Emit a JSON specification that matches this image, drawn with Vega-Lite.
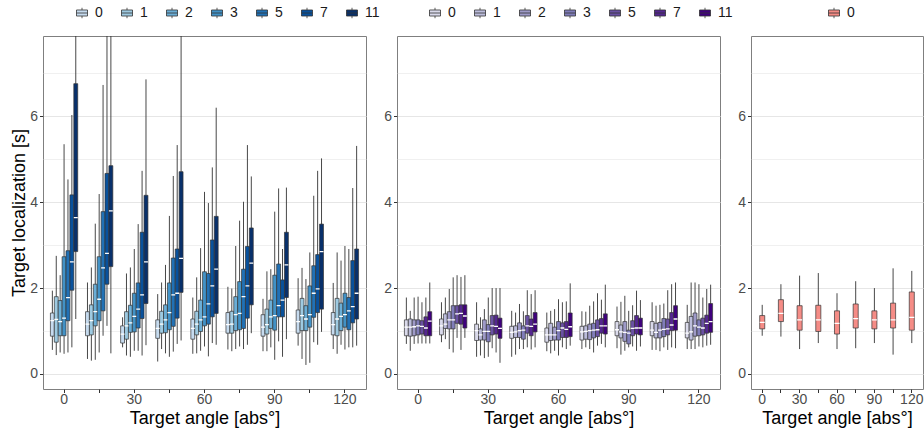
{
  "$schema": "https://vega.github.io/schema/vega-lite/v6.json",
  "padding": {"left": 10, "top": 5, "right": 0, "bottom": 5},
  "background": "white",
  "config": {
    "font": "Liberation Sans",
    "view": {"stroke": "#7f7f7f", "strokeWidth": 1},
    "axis": {"labelFontSize": 14, "labelColor": "#4d4d4d", "titleFontSize": 18, "titleFontWeight": "normal", "titleColor": "#000000", "tickColor": "#333333", "tickSize": 3.5, "domain": false, "gridColor": "#e6e6e6", "labelPadding": 2},
    "axisX": {"labelPadding": 0, "titlePadding": 3},
    "legend": {"orient": "none", "direction": "horizontal", "symbolType": "M-1,-0.55H1V0.55H-1Z M-1,0H1 M0,-0.55V-0.95 M0,0.55V0.95", "symbolSize": 121, "symbolStrokeColor": "#333333", "symbolStrokeWidth": 0.8, "symbolOpacity": 1, "labelFontSize": 14, "labelColor": "#1a1a1a", "labelOffset": 6, "columnPadding": 16}
  },
  "datasets": {
    "p1": [
      {"a":0,"g":0,"lo":0.56,"q1":0.88,"md":1.24,"q3":1.42,"hi":1.94},
      {"a":0,"g":1,"lo":0.44,"q1":0.74,"md":1.27,"q3":1.80,"hi":2.75},
      {"a":0,"g":2,"lo":0.50,"q1":0.89,"md":1.22,"q3":1.71,"hi":2.30},
      {"a":0,"g":3,"lo":0.47,"q1":0.89,"md":1.30,"q3":2.73,"hi":5.35},
      {"a":0,"g":5,"lo":0.50,"q1":1.24,"md":1.78,"q3":2.87,"hi":4.53},
      {"a":0,"g":7,"lo":0.62,"q1":1.95,"md":2.61,"q3":4.17,"hi":6.03},
      {"a":0,"g":11,"lo":1.28,"q1":2.85,"md":3.64,"q3":6.76,"hi":9.0},
      {"a":15,"g":0,"lo":0.35,"q1":0.89,"md":1.16,"q3":1.45,"hi":2.13},
      {"a":15,"g":1,"lo":0.31,"q1":0.91,"md":1.24,"q3":1.61,"hi":2.48},
      {"a":15,"g":2,"lo":0.33,"q1":1.12,"md":1.45,"q3":2.09,"hi":3.50},
      {"a":15,"g":3,"lo":0.50,"q1":1.24,"md":1.74,"q3":2.73,"hi":4.19},
      {"a":15,"g":5,"lo":0.89,"q1":1.47,"md":2.47,"q3":3.78,"hi":6.73},
      {"a":15,"g":7,"lo":1.12,"q1":2.09,"md":2.81,"q3":4.67,"hi":9.0},
      {"a":15,"g":11,"lo":0.48,"q1":2.50,"md":3.80,"q3":4.85,"hi":9.0},
      {"a":30,"g":0,"lo":0.62,"q1":0.72,"md":0.93,"q3":1.12,"hi":1.32},
      {"a":30,"g":1,"lo":0.43,"q1":0.81,"md":1.12,"q3":1.45,"hi":2.34},
      {"a":30,"g":2,"lo":0.40,"q1":0.97,"md":1.19,"q3":1.60,"hi":2.48},
      {"a":30,"g":3,"lo":0.54,"q1":0.98,"md":1.34,"q3":1.88,"hi":2.91},
      {"a":30,"g":5,"lo":0.54,"q1":1.07,"md":1.51,"q3":2.12,"hi":3.49},
      {"a":30,"g":7,"lo":0.43,"q1":1.29,"md":1.84,"q3":3.30,"hi":4.73},
      {"a":30,"g":11,"lo":0.67,"q1":1.64,"md":2.61,"q3":4.16,"hi":6.86},
      {"a":45,"g":0,"lo":0.29,"q1":0.83,"md":1.06,"q3":1.26,"hi":1.86},
      {"a":45,"g":1,"lo":0.58,"q1":0.95,"md":1.16,"q3":1.46,"hi":2.13},
      {"a":45,"g":2,"lo":0.48,"q1":0.96,"md":1.26,"q3":1.61,"hi":2.54},
      {"a":45,"g":3,"lo":0.40,"q1":1.03,"md":1.43,"q3":2.12,"hi":3.68},
      {"a":45,"g":5,"lo":0.52,"q1":1.11,"md":1.84,"q3":2.70,"hi":4.61},
      {"a":45,"g":7,"lo":0.70,"q1":1.30,"md":1.88,"q3":2.91,"hi":5.33},
      {"a":45,"g":11,"lo":0.78,"q1":1.90,"md":2.69,"q3":4.71,"hi":9.0},
      {"a":60,"g":0,"lo":0.47,"q1":0.81,"md":1.06,"q3":1.28,"hi":1.78},
      {"a":60,"g":1,"lo":0.48,"q1":0.91,"md":1.16,"q3":1.46,"hi":2.25},
      {"a":60,"g":2,"lo":0.54,"q1":0.99,"md":1.26,"q3":1.72,"hi":2.93},
      {"a":60,"g":3,"lo":0.64,"q1":1.12,"md":1.33,"q3":2.38,"hi":4.24},
      {"a":60,"g":5,"lo":0.41,"q1":1.16,"md":1.63,"q3":2.34,"hi":3.98},
      {"a":60,"g":7,"lo":0.72,"q1":1.33,"md":2.05,"q3":3.12,"hi":4.81},
      {"a":60,"g":11,"lo":0.68,"q1":1.41,"md":2.44,"q3":3.67,"hi":6.20},
      {"a":75,"g":0,"lo":0.57,"q1":0.95,"md":1.15,"q3":1.43,"hi":2.03},
      {"a":75,"g":1,"lo":0.53,"q1":0.95,"md":1.16,"q3":1.46,"hi":1.99},
      {"a":75,"g":2,"lo":0.58,"q1":1.01,"md":1.38,"q3":1.80,"hi":2.98},
      {"a":75,"g":3,"lo":0.64,"q1":1.03,"md":1.41,"q3":2.15,"hi":3.57},
      {"a":75,"g":5,"lo":0.58,"q1":1.06,"md":1.80,"q3":2.44,"hi":4.01},
      {"a":75,"g":7,"lo":0.68,"q1":1.30,"md":2.05,"q3":2.97,"hi":5.33},
      {"a":75,"g":11,"lo":0.95,"q1":1.61,"md":2.58,"q3":3.40,"hi":4.60},
      {"a":90,"g":0,"lo":0.53,"q1":0.88,"md":1.09,"q3":1.38,"hi":1.75},
      {"a":90,"g":1,"lo":0.53,"q1":0.93,"md":1.15,"q3":1.51,"hi":2.39},
      {"a":90,"g":2,"lo":0.62,"q1":1.06,"md":1.33,"q3":1.72,"hi":2.44},
      {"a":90,"g":3,"lo":0.33,"q1":1.02,"md":1.36,"q3":2.30,"hi":3.78},
      {"a":90,"g":5,"lo":0.76,"q1":1.33,"md":1.59,"q3":2.56,"hi":4.32},
      {"a":90,"g":7,"lo":0.40,"q1":1.33,"md":1.72,"q3":2.19,"hi":2.91},
      {"a":90,"g":11,"lo":0.81,"q1":1.78,"md":2.54,"q3":3.30,"hi":4.34},
      {"a":105,"g":0,"lo":0.66,"q1":0.95,"md":1.22,"q3":1.49,"hi":2.23},
      {"a":105,"g":1,"lo":0.35,"q1":1.01,"md":1.36,"q3":1.76,"hi":2.47},
      {"a":105,"g":2,"lo":0.21,"q1":1.01,"md":1.28,"q3":1.59,"hi":2.21},
      {"a":105,"g":3,"lo":0.26,"q1":1.09,"md":1.38,"q3":2.05,"hi":2.83},
      {"a":105,"g":5,"lo":0.74,"q1":1.32,"md":1.88,"q3":2.52,"hi":4.15},
      {"a":105,"g":7,"lo":0.68,"q1":1.43,"md":1.98,"q3":2.78,"hi":4.73},
      {"a":105,"g":11,"lo":0.98,"q1":1.51,"md":2.85,"q3":3.49,"hi":5.02},
      {"a":120,"g":0,"lo":0.58,"q1":0.91,"md":1.15,"q3":1.43,"hi":2.12},
      {"a":120,"g":1,"lo":0.47,"q1":0.89,"md":1.28,"q3":1.76,"hi":2.83},
      {"a":120,"g":2,"lo":0.68,"q1":1.01,"md":1.34,"q3":1.65,"hi":2.64},
      {"a":120,"g":3,"lo":0.57,"q1":1.09,"md":1.38,"q3":1.88,"hi":2.98},
      {"a":120,"g":5,"lo":0.62,"q1":1.03,"md":1.47,"q3":1.78,"hi":2.91},
      {"a":120,"g":7,"lo":0.62,"q1":1.19,"md":1.57,"q3":2.64,"hi":4.33},
      {"a":120,"g":11,"lo":0.66,"q1":1.28,"md":1.88,"q3":2.91,"hi":5.31}
    ],
    "p2": [
      {"a":0,"g":0,"lo":0.70,"q1":0.89,"md":1.09,"q3":1.26,"hi":1.78},
      {"a":0,"g":1,"lo":0.54,"q1":0.88,"md":1.09,"q3":1.28,"hi":1.47},
      {"a":0,"g":2,"lo":0.70,"q1":0.89,"md":1.10,"q3":1.26,"hi":1.78},
      {"a":0,"g":3,"lo":0.71,"q1":0.91,"md":1.12,"q3":1.26,"hi":1.80},
      {"a":0,"g":5,"lo":0.71,"q1":0.93,"md":1.11,"q3":1.24,"hi":1.67},
      {"a":0,"g":7,"lo":0.71,"q1":0.89,"md":1.07,"q3":1.33,"hi":1.78},
      {"a":0,"g":11,"lo":0.71,"q1":0.89,"md":1.23,"q3":1.45,"hi":2.13},
      {"a":15,"g":0,"lo":0.74,"q1":0.91,"md":1.12,"q3":1.28,"hi":1.67},
      {"a":15,"g":1,"lo":0.81,"q1":1.06,"md":1.16,"q3":1.40,"hi":1.78},
      {"a":15,"g":2,"lo":0.58,"q1":1.05,"md":1.26,"q3":1.45,"hi":1.98},
      {"a":15,"g":3,"lo":0.50,"q1":1.05,"md":1.26,"q3":1.59,"hi":2.25},
      {"a":15,"g":5,"lo":0.84,"q1":1.18,"md":1.40,"q3":1.59,"hi":2.30},
      {"a":15,"g":7,"lo":0.56,"q1":1.16,"md":1.41,"q3":1.61,"hi":2.26},
      {"a":15,"g":11,"lo":0.84,"q1":1.07,"md":1.35,"q3":1.61,"hi":2.30},
      {"a":30,"g":0,"lo":0.40,"q1":0.78,"md":1.01,"q3":1.16,"hi":1.67},
      {"a":30,"g":1,"lo":0.43,"q1":0.79,"md":0.91,"q3":1.05,"hi":1.32},
      {"a":30,"g":2,"lo":0.37,"q1":0.79,"md":0.99,"q3":1.26,"hi":1.51},
      {"a":30,"g":3,"lo":0.40,"q1":0.75,"md":0.99,"q3":1.15,"hi":1.78},
      {"a":30,"g":5,"lo":0.60,"q1":0.91,"md":1.12,"q3":1.36,"hi":2.00},
      {"a":30,"g":7,"lo":0.50,"q1":0.93,"md":1.11,"q3":1.37,"hi":2.00},
      {"a":30,"g":11,"lo":0.26,"q1":0.83,"md":1.06,"q3":1.30,"hi":2.00},
      {"a":45,"g":0,"lo":0.40,"q1":0.83,"md":0.97,"q3":1.11,"hi":1.47},
      {"a":45,"g":1,"lo":0.45,"q1":0.85,"md":0.98,"q3":1.12,"hi":1.43},
      {"a":45,"g":2,"lo":0.58,"q1":0.85,"md":1.01,"q3":1.19,"hi":1.63},
      {"a":45,"g":3,"lo":0.58,"q1":0.81,"md":1.02,"q3":1.12,"hi":1.46},
      {"a":45,"g":5,"lo":0.62,"q1":0.95,"md":1.12,"q3":1.36,"hi":1.95},
      {"a":45,"g":7,"lo":0.57,"q1":0.89,"md":1.11,"q3":1.28,"hi":1.86},
      {"a":45,"g":11,"lo":0.62,"q1":0.98,"md":1.16,"q3":1.43,"hi":1.95},
      {"a":60,"g":0,"lo":0.53,"q1":0.74,"md":0.91,"q3":1.07,"hi":1.43},
      {"a":60,"g":1,"lo":0.48,"q1":0.78,"md":0.91,"q3":1.18,"hi":1.47},
      {"a":60,"g":2,"lo":0.54,"q1":0.79,"md":0.91,"q3":1.09,"hi":1.51},
      {"a":60,"g":3,"lo":0.43,"q1":0.79,"md":1.01,"q3":1.22,"hi":1.74},
      {"a":60,"g":5,"lo":0.62,"q1":0.85,"md":1.07,"q3":1.19,"hi":1.67},
      {"a":60,"g":7,"lo":0.58,"q1":0.85,"md":1.04,"q3":1.22,"hi":1.69},
      {"a":60,"g":11,"lo":0.66,"q1":0.87,"md":1.10,"q3":1.42,"hi":2.11},
      {"a":75,"g":0,"lo":0.58,"q1":0.79,"md":0.98,"q3":1.11,"hi":1.46},
      {"a":75,"g":1,"lo":0.62,"q1":0.81,"md":0.99,"q3":1.12,"hi":1.45},
      {"a":75,"g":2,"lo":0.58,"q1":0.80,"md":1.01,"q3":1.16,"hi":1.59},
      {"a":75,"g":3,"lo":0.50,"q1":0.84,"md":1.02,"q3":1.18,"hi":1.69},
      {"a":75,"g":5,"lo":0.66,"q1":0.87,"md":1.03,"q3":1.26,"hi":1.88},
      {"a":75,"g":7,"lo":0.70,"q1":0.95,"md":1.12,"q3":1.29,"hi":1.73},
      {"a":75,"g":11,"lo":0.62,"q1":0.93,"md":1.12,"q3":1.40,"hi":2.08},
      {"a":90,"g":0,"lo":0.60,"q1":0.89,"md":1.03,"q3":1.22,"hi":1.57},
      {"a":90,"g":1,"lo":0.45,"q1":0.84,"md":0.98,"q3":1.14,"hi":1.68},
      {"a":90,"g":2,"lo":0.54,"q1":0.76,"md":0.97,"q3":1.22,"hi":1.82},
      {"a":90,"g":3,"lo":0.62,"q1":0.70,"md":0.95,"q3":1.02,"hi":1.47},
      {"a":90,"g":5,"lo":0.64,"q1":0.89,"md":1.06,"q3":1.24,"hi":1.60},
      {"a":90,"g":7,"lo":0.54,"q1":0.93,"md":1.07,"q3":1.36,"hi":1.94},
      {"a":90,"g":11,"lo":0.64,"q1":0.91,"md":1.07,"q3":1.30,"hi":1.72},
      {"a":105,"g":0,"lo":0.56,"q1":0.89,"md":1.02,"q3":1.22,"hi":1.67},
      {"a":105,"g":1,"lo":0.56,"q1":0.84,"md":0.97,"q3":1.18,"hi":1.59},
      {"a":105,"g":2,"lo":0.53,"q1":0.84,"md":1.02,"q3":1.20,"hi":1.61},
      {"a":105,"g":3,"lo":0.62,"q1":0.87,"md":1.04,"q3":1.29,"hi":1.64},
      {"a":105,"g":5,"lo":0.56,"q1":0.91,"md":1.05,"q3":1.28,"hi":1.95},
      {"a":105,"g":7,"lo":0.62,"q1":1.01,"md":1.14,"q3":1.43,"hi":2.09},
      {"a":105,"g":11,"lo":0.60,"q1":1.02,"md":1.28,"q3":1.59,"hi":2.13},
      {"a":120,"g":0,"lo":0.58,"q1":0.84,"md":0.95,"q3":1.20,"hi":1.61},
      {"a":120,"g":1,"lo":0.58,"q1":0.79,"md":0.98,"q3":1.34,"hi":2.13},
      {"a":120,"g":2,"lo":0.58,"q1":0.88,"md":1.12,"q3":1.42,"hi":2.13},
      {"a":120,"g":3,"lo":0.64,"q1":0.89,"md":1.09,"q3":1.26,"hi":2.09},
      {"a":120,"g":5,"lo":0.62,"q1":0.91,"md":1.07,"q3":1.30,"hi":1.78},
      {"a":120,"g":7,"lo":0.66,"q1":0.95,"md":1.18,"q3":1.37,"hi":1.98},
      {"a":120,"g":11,"lo":0.68,"q1":0.97,"md":1.22,"q3":1.64,"hi":2.08}
    ],
    "p3": [
      {"a":0,"g":0,"lo":0.89,"q1":1.05,"md":1.20,"q3":1.36,"hi":1.61},
      {"a":15,"g":0,"lo":0.87,"q1":1.22,"md":1.41,"q3":1.73,"hi":2.09},
      {"a":30,"g":0,"lo":0.58,"q1":1.02,"md":1.26,"q3":1.59,"hi":2.29},
      {"a":45,"g":0,"lo":0.72,"q1":0.99,"md":1.26,"q3":1.60,"hi":2.35},
      {"a":60,"g":0,"lo":0.58,"q1":0.93,"md":1.18,"q3":1.47,"hi":1.88},
      {"a":75,"g":0,"lo":0.60,"q1":1.07,"md":1.29,"q3":1.63,"hi":2.16},
      {"a":90,"g":0,"lo":0.72,"q1":1.05,"md":1.26,"q3":1.47,"hi":2.00},
      {"a":105,"g":0,"lo":0.45,"q1":1.07,"md":1.26,"q3":1.65,"hi":2.46},
      {"a":120,"g":0,"lo":0.72,"q1":1.02,"md":1.32,"q3":1.91,"hi":2.40}
    ]
  },
  "bounds": "flush",
  "spacing": 31,
  "resolve": {"scale": {"fill": "independent", "x": "independent", "xOffset": "independent", "y": "independent"}, "legend": {"fill": "independent"}},
  "hconcat": [
    {
      "width": 323, "height": 353,
      "data": {"name": "p1"},
      "encoding": {
        "x": {"field": "a", "type": "ordinal", "title": "Target angle [abs°]", "scale": {"paddingInner": 0, "paddingOuter": 0.1},
              "axis": {"labelAngle": 0, "bandPosition": 0.5, "labelExpr": "datum.value % 30 === 0 ? datum.label : ''", "gridWidth": {"condition": {"test": "datum.value % 30 === 0", "value": 1}, "value": 0.6}}},
        "xOffset": {"field": "g", "type": "ordinal", "scale": {"paddingInner": 0, "paddingOuter": 1}}
      },
      "layer": [
        {"mark": {"type": "rule", "color": "#333333", "strokeWidth": 0.9, "clip": true},
         "encoding": {"y": {"field": "lo", "type": "quantitative", "title": "Target localization [s]", "scale": {"domain": [-0.35, 7.87], "nice": false, "zero": false},
                            "axis": {"values": [0,1,2,3,4,5,6,7], "labelExpr": "datum.value % 2 === 0 ? datum.label : ''", "tickOpacity": {"condition": {"test": "datum.value % 2 === 1", "value": 0}, "value": 1}, "gridWidth": {"condition": {"test": "datum.value % 2 === 1", "value": 0.6}, "value": 1}, "titlePadding": 1}},
                      "y2": {"field": "hi"}}},
        {"mark": {"type": "bar", "stroke": "#333333", "strokeWidth": 0.7},
         "encoding": {"y": {"field": "q1", "type": "quantitative"}, "y2": {"field": "q3"},
                      "fill": {"field": "g", "type": "ordinal", "scale": {"domain": [0,1,2,3,5,7,11], "range": ["#c6dbef","#9ecae1","#6baed6","#4292c6","#2171b5","#08519c","#08306b"]},
                               "legend": {"title": null, "legendX": 32, "legendY": -30}}}},
        {"mark": {"type": "bar", "stroke": "white", "strokeWidth": 1.3, "fillOpacity": 0},
         "encoding": {"y": {"field": "md", "type": "quantitative"}, "y2": {"field": "md"}}}
      ]
    },
    {
      "width": 323, "height": 353,
      "data": {"name": "p2"},
      "encoding": {
        "x": {"field": "a", "type": "ordinal", "title": "Target angle [abs°]", "scale": {"paddingInner": 0, "paddingOuter": 0.1},
              "axis": {"labelAngle": 0, "bandPosition": 0.5, "labelExpr": "datum.value % 30 === 0 ? datum.label : ''", "gridWidth": {"condition": {"test": "datum.value % 30 === 0", "value": 1}, "value": 0.6}}},
        "xOffset": {"field": "g", "type": "ordinal", "scale": {"paddingInner": 0, "paddingOuter": 1}}
      },
      "layer": [
        {"mark": {"type": "rule", "color": "#333333", "strokeWidth": 0.9, "clip": true},
         "encoding": {"y": {"field": "lo", "type": "quantitative", "title": null, "scale": {"domain": [-0.35, 7.87], "nice": false, "zero": false},
                            "axis": {"values": [0,1,2,3,4,5,6,7], "labelExpr": "datum.value % 2 === 0 ? datum.label : ''", "tickOpacity": {"condition": {"test": "datum.value % 2 === 1", "value": 0}, "value": 1}, "gridWidth": {"condition": {"test": "datum.value % 2 === 1", "value": 0.6}, "value": 1}}},
                      "y2": {"field": "hi"}}},
        {"mark": {"type": "bar", "stroke": "#333333", "strokeWidth": 0.7},
         "encoding": {"y": {"field": "q1", "type": "quantitative"}, "y2": {"field": "q3"},
                      "fill": {"field": "g", "type": "ordinal", "scale": {"domain": [0,1,2,3,5,7,11], "range": ["#dadaeb","#bcbddc","#9e9ac8","#807dba","#6a51a3","#54278f","#3f007d"]},
                               "legend": {"title": null, "legendX": 31, "legendY": -30}}}},
        {"mark": {"type": "bar", "stroke": "white", "strokeWidth": 1.3, "fillOpacity": 0},
         "encoding": {"y": {"field": "md", "type": "quantitative"}, "y2": {"field": "md"}}}
      ]
    },
    {
      "width": 172, "height": 353,
      "data": {"name": "p3"},
      "encoding": {
        "x": {"field": "a", "type": "ordinal", "title": "Target angle [abs°]", "scale": {"paddingInner": 0, "paddingOuter": 0.1},
              "axis": {"labelAngle": 0, "bandPosition": 0.5, "labelExpr": "datum.value % 30 === 0 ? datum.label : ''", "gridWidth": {"condition": {"test": "datum.value % 30 === 0", "value": 1}, "value": 0.6}}}
      },
      "layer": [
        {"mark": {"type": "rule", "color": "#333333", "strokeWidth": 0.9, "clip": true},
         "encoding": {"y": {"field": "lo", "type": "quantitative", "title": null, "scale": {"domain": [-0.35, 7.87], "nice": false, "zero": false},
                            "axis": {"values": [0,1,2,3,4,5,6,7], "labelExpr": "datum.value % 2 === 0 ? datum.label : ''", "tickOpacity": {"condition": {"test": "datum.value % 2 === 1", "value": 0}, "value": 1}, "gridWidth": {"condition": {"test": "datum.value % 2 === 1", "value": 0.6}, "value": 1}}},
                      "y2": {"field": "hi"}}},
        {"mark": {"type": "bar", "stroke": "#333333", "strokeWidth": 0.7, "width": {"band": 0.27}},
         "encoding": {"y": {"field": "q1", "type": "quantitative"}, "y2": {"field": "q3"},
                      "fill": {"field": "g", "type": "nominal", "scale": {"domain": [0], "range": ["#f58c86"]},
                               "legend": {"title": null, "legendX": 76, "legendY": -30}}}},
        {"mark": {"type": "bar", "stroke": "white", "strokeWidth": 1.3, "fillOpacity": 0, "width": {"band": 0.27}},
         "encoding": {"y": {"field": "md", "type": "quantitative"}, "y2": {"field": "md"}}}
      ]
    }
  ]
}
